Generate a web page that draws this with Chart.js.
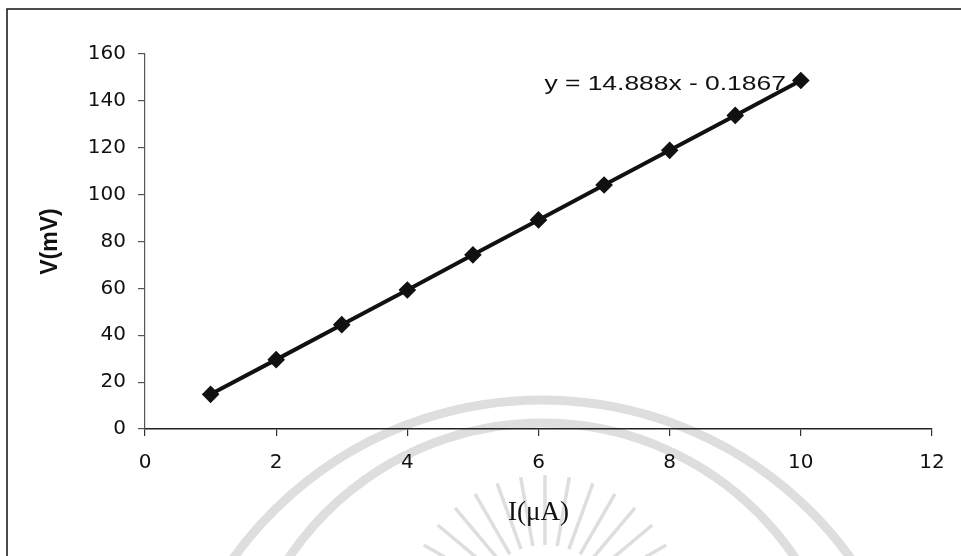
<!DOCTYPE html>
<html>
<head>
<meta charset="utf-8">
<script src="https://cdn.jsdelivr.net/npm/chart.js@4/dist/chart.umd.min.js"></script>
<style>
  html, body { margin: 0; padding: 0; background: #fff; }
  #wrap { width: 961px; height: 556px; position: relative; }
</style>
</head>
<body>
<div id="wrap"><canvas id="chart"></canvas></div>
<script>
// current (uA) and voltage (mV) readings
var currents = [1, 2, 3, 4, 5, 6, 7, 8, 9, 10];
var voltages = [14.8, 29.6, 44.5, 59.3, 74.3, 89.2, 104.1, 118.9, 133.8, 148.7];
var xTicks = [0, 2, 4, 6, 8, 10, 12];
var yTicks = [0, 20, 40, 60, 80, 100, 120, 140, 160];
var equation = "y = 14.888x - 0.1867";

var points = [];
for (var i = 0; i < currents.length; i++) {
  points.push({x: currents[i], y: voltages[i]});
}

var tickFont = { family: "'DejaVu Sans', sans-serif", size: 20 };

// faint watermark (arcs + rays), frame, and the trendline equation
var extras = {
  id: "extras",
  beforeDraw: function(chart) {
    var ctx = chart.ctx;
    ctx.save();
    ctx.strokeStyle = "#dedede";
    ctx.lineWidth = 9;
    ctx.beginPath();
    ctx.arc(542, 780, 380, Math.PI * 1.02, Math.PI * 1.98);
    ctx.stroke();
    ctx.beginPath();
    ctx.arc(542, 728, 305, Math.PI * 1.02, Math.PI * 1.98);
    ctx.stroke();
    ctx.lineWidth = 3.5;
    for (var a = -150; a <= -30; a += 10) {
      var r = a * Math.PI / 180;
      ctx.beginPath();
      ctx.moveTo(545 + Math.cos(r) * 70, 615 + Math.sin(r) * 70);
      ctx.lineTo(545 + Math.cos(r) * 140, 615 + Math.sin(r) * 140);
      ctx.stroke();
    }
    ctx.strokeStyle = "#111";
    ctx.lineWidth = 1.5;
    ctx.strokeRect(7, 9, 970, 560);
    ctx.restore();
  },
  afterDatasetsDraw: function(chart) {
    var ctx = chart.ctx;
    var xs = chart.scales.x, ys = chart.scales.y;
    var px = xs.getPixelForValue(6.09), py = ys.getPixelForValue(144.5);
    ctx.save();
    ctx.translate(px, py);
    ctx.scale(1.32, 1);
    ctx.fillStyle = "#111";
    ctx.font = "20px 'Liberation Sans', Arial, sans-serif";
    ctx.textBaseline = "alphabetic";
    ctx.fillText(equation, 0, 0);
    ctx.restore();
  }
};

new Chart(document.getElementById("chart"), {
  type: "scatter",
  data: {
    datasets: [{
      data: points,
      showLine: true,
      borderColor: "#111",
      backgroundColor: "#111",
      borderWidth: 4,
      pointStyle: "rectRot",
      pointRadius: 6,
      pointBackgroundColor: "#111",
      pointBorderColor: "#111",
      tension: 0
    }]
  },
  options: {
    responsive: true,
    maintainAspectRatio: false,
    animation: false,
    layout: { padding: { top: 54, right: 29, left: 0, bottom: 0 } },
    plugins: { legend: { display: false }, tooltip: { enabled: false } },
    scales: {
      x: {
        type: "linear",
        min: 0, max: 12,
        afterBuildTicks: function(s) { s.ticks = xTicks.map(function(v) { return {value: v}; }); },
        afterFit: function(s) { s.height = 127; },
        border: { display: true, color: "#222", width: 1.5 },
        grid: { drawOnChartArea: false, tickLength: 7, color: "#333", lineWidth: 1.2 },
        ticks: { color: "#111", padding: 15, font: tickFont },
        title: {
          display: true, text: "I(\u03bcA)", color: "#111",
          font: { family: "'Liberation Serif', 'Times New Roman', serif", size: 27 },
          padding: { top: 0, bottom: 27 }
        }
      },
      y: {
        min: 0, max: 160,
        afterBuildTicks: function(s) { s.ticks = yTicks.map(function(v) { return {value: v}; }); },
        afterFit: function(s) { s.width = 145; },
        border: { display: true, color: "#555", width: 1.2 },
        grid: { drawOnChartArea: false, tickLength: 7, color: "#555", lineWidth: 1.2 },
        ticks: { color: "#111", padding: 12, font: tickFont },
        title: {
          display: true, text: "V(mV)", color: "#111",
          font: { family: "'Liberation Sans', Arial, sans-serif", size: 23, weight: "bold" },
          padding: { top: 37, bottom: 0 }
        }
      }
    }
  },
  plugins: [extras]
});
</script>
</body>
</html>
